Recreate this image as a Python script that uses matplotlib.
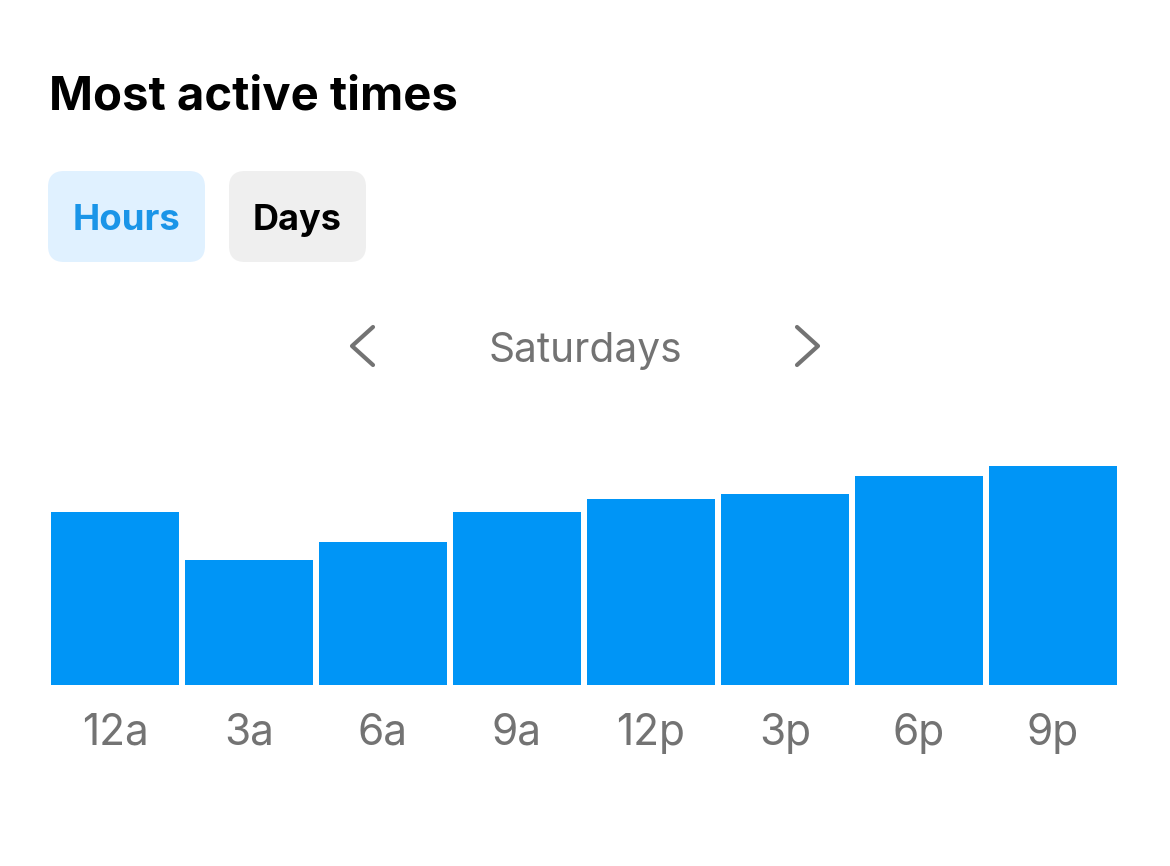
import matplotlib
matplotlib.use("Agg")
import matplotlib.pyplot as plt
from matplotlib.patches import FancyBboxPatch

hours = ['12a', '3a', '6a', '9a', '12p', '3p', '6p', '9p']
activity = [173, 125, 143, 173, 186, 191, 209, 219]

W, H = 1170, 866
fig = plt.figure(figsize=(W / 100, H / 100), dpi=100, facecolor='white')
plt.rcParams['font.family'] = ['Inter', 'DejaVu Sans']

bg = fig.add_axes([0, 0, 1, 1])
bg.set_xlim(0, W)
bg.set_ylim(H, 0)
bg.axis('off')

bg.text(49, 98, 'Most active times', fontsize=34, fontweight='bold', color='black', va='center', ha='left')


def pill(x, y, w, h, color):
    bg.add_patch(FancyBboxPatch((x + 16, y + 16), w - 32, h - 32, boxstyle='round,pad=16,rounding_size=16',
                                fc=color, ec='none'))


pill(48, 171, 157, 91, '#E0F1FF')
pill(229, 171, 137, 91, '#EFEFEF')
bg.text(126.5, 220.5, 'Hours', fontsize=26.3, fontweight='bold', color='#1A95E8', ha='center', va='center')
bg.text(297.5, 220.5, 'Days', fontsize=26, fontweight='bold', color='black', ha='center', va='center')
bg.text(585, 351, 'Saturdays', fontsize=29.3, color='#737373', ha='center', va='center')
bg.plot([373, 352, 373], [327, 346, 365], color='#737373', lw=3, solid_capstyle='round', solid_joinstyle='round')
bg.plot([797, 818, 797], [327, 346, 365], color='#737373', lw=3, solid_capstyle='round', solid_joinstyle='round')

# plot axes: x spans pixels 48..1120, baseline y=685
ax = fig.add_axes([48 / W, 1 - 685 / H, 1072 / W, 300 / H])
ax.patch.set_alpha(0)
x = list(range(len(hours)))
ax.bar(x, activity, width=128 / 134, color='#0095F6')
ax.set_xlim(-0.5, 7.5)
ax.set_ylim(0, 300)
for s in ax.spines.values():
    s.set_visible(False)
ax.set_yticks([])
ax.set_xticks(x)
ax.set_xticklabels(hours, fontsize=30.5, color='#737373')
for lab in ax.get_xticklabels():
    lab.set_x(lab.get_position()[0])
ax.tick_params(axis='x', length=0, pad=20)

fig.savefig('out.png', dpi=100, facecolor='white')
